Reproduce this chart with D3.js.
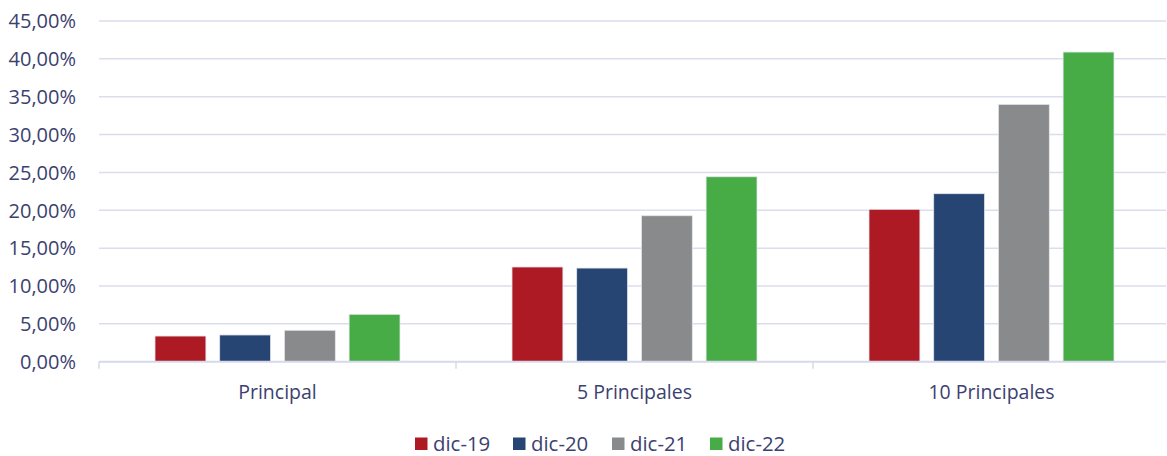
<!DOCTYPE html>
<html>
<head>
<meta charset="utf-8">
<script src="https://cdn.jsdelivr.net/npm/d3@7"></script>
<style>
html,body{margin:0;padding:0;background:#fff;}
svg{display:block;}
text{font-family:"Open Sans",sans-serif;fill:#3B4170;}
</style>
</head>
<body>
<svg id="chart" width="1167" height="456"></svg>
<script>
const categories = ["Principal", "5 Principales", "10 Principales"];
const seriesNames = ["dic-19", "dic-20", "dic-21", "dic-22"];
const dic19 = [3.39, 12.51, 20.13];
const dic20 = [3.53, 12.37, 22.19];
const dic21 = [4.15, 19.28, 33.99];
const dic22 = [6.26, 24.43, 40.90];
const seriesValues = [dic19, dic20, dic21, dic22];
const colors = ["#AD1A24", "#264573", "#898A8C", "#47AC46"];
const yTicks = [0, 5, 10, 15, 20, 25, 30, 35, 40, 45];

const svg = d3.select("#chart");
const mLeft = 99, mRight = 1170, mTop = 21, mBottom = 361.7;

const x0 = d3.scaleBand().domain(categories).range([mLeft, mRight])
  .paddingInner(0.3137).paddingOuter(0.3137 / 2);
const x1 = d3.scaleBand().domain(seriesNames).range([0, x0.bandwidth()])
  .paddingInner(0.213).paddingOuter(0);
const y = d3.scaleLinear().domain([0, 45]).range([mBottom, mTop]);

const fmt = v => d3.format(".2f")(v).replace(".", ",") + "%";

// gridlines
svg.append("g").selectAll("line").data(yTicks.filter(d => d > 0)).join("line")
  .attr("x1", mLeft).attr("x2", 1166)
  .attr("y1", d => y(d)).attr("y2", d => y(d))
  .attr("stroke", "#DBDDED").attr("stroke-width", 1.5);

// y labels
const yAxis = d3.axisLeft(y).tickValues(yTicks).tickFormat(fmt).tickSize(0).tickPadding(0);
const gy = svg.append("g").attr("transform", "translate(76,0)").call(yAxis);
gy.select(".domain").remove();
gy.selectAll("text").attr("font-size", 20).attr("fill", "#3B4170")
  .style("font-family", '"Open Sans",sans-serif').attr("dy", "0.34em");

// bars
const groups = svg.append("g").selectAll("g").data(categories).join("g")
  .attr("transform", d => `translate(${x0(d)},0)`);
groups.selectAll("rect")
  .data((c, i) => seriesNames.map((s, j) => ({s, v: seriesValues[j][i], j})))
  .join("rect")
  .attr("x", d => x1(d.s))
  .attr("width", x1.bandwidth())
  .attr("y", d => y(d.v))
  .attr("height", d => y(0) - y(d.v))
  .attr("fill", d => colors[d.j])
  .attr("stroke", "#E4E6EE").attr("stroke-width", 0.8);

// x axis
svg.append("line").attr("x1", mLeft).attr("x2", 1166)
  .attr("y1", mBottom).attr("y2", mBottom)
  .attr("stroke", "#D6D9EB").attr("stroke-width", 2);
const boundaries = [mLeft, mLeft + (mRight - mLeft) / 3, mLeft + 2 * (mRight - mLeft) / 3];
svg.append("g").selectAll("line").data(boundaries).join("line")
  .attr("x1", d => d).attr("x2", d => d)
  .attr("y1", mBottom).attr("y2", mBottom + 7)
  .attr("stroke", "#D6D9EB").attr("stroke-width", 1.5);
svg.append("g").selectAll("text").data(categories).join("text")
  .attr("x", d => x0(d) + x0.bandwidth() / 2)
  .attr("y", 398.5)
  .attr("text-anchor", "middle")
  .attr("font-size", 19.5)
  .text(d => d);

// legend
const legendX = [415, 513, 612, 710];
const lg = svg.append("g").selectAll("g").data(seriesNames).join("g")
  .attr("transform", (d, i) => `translate(${legendX[i]},437.5)`);
lg.append("rect").attr("width", 12.5).attr("height", 12.5)
  .attr("fill", (d, i) => colors[i]);
lg.append("text").attr("x", 18).attr("y", 13)
  .attr("font-size", 20.4).text(d => d);
</script>
</body>
</html>
